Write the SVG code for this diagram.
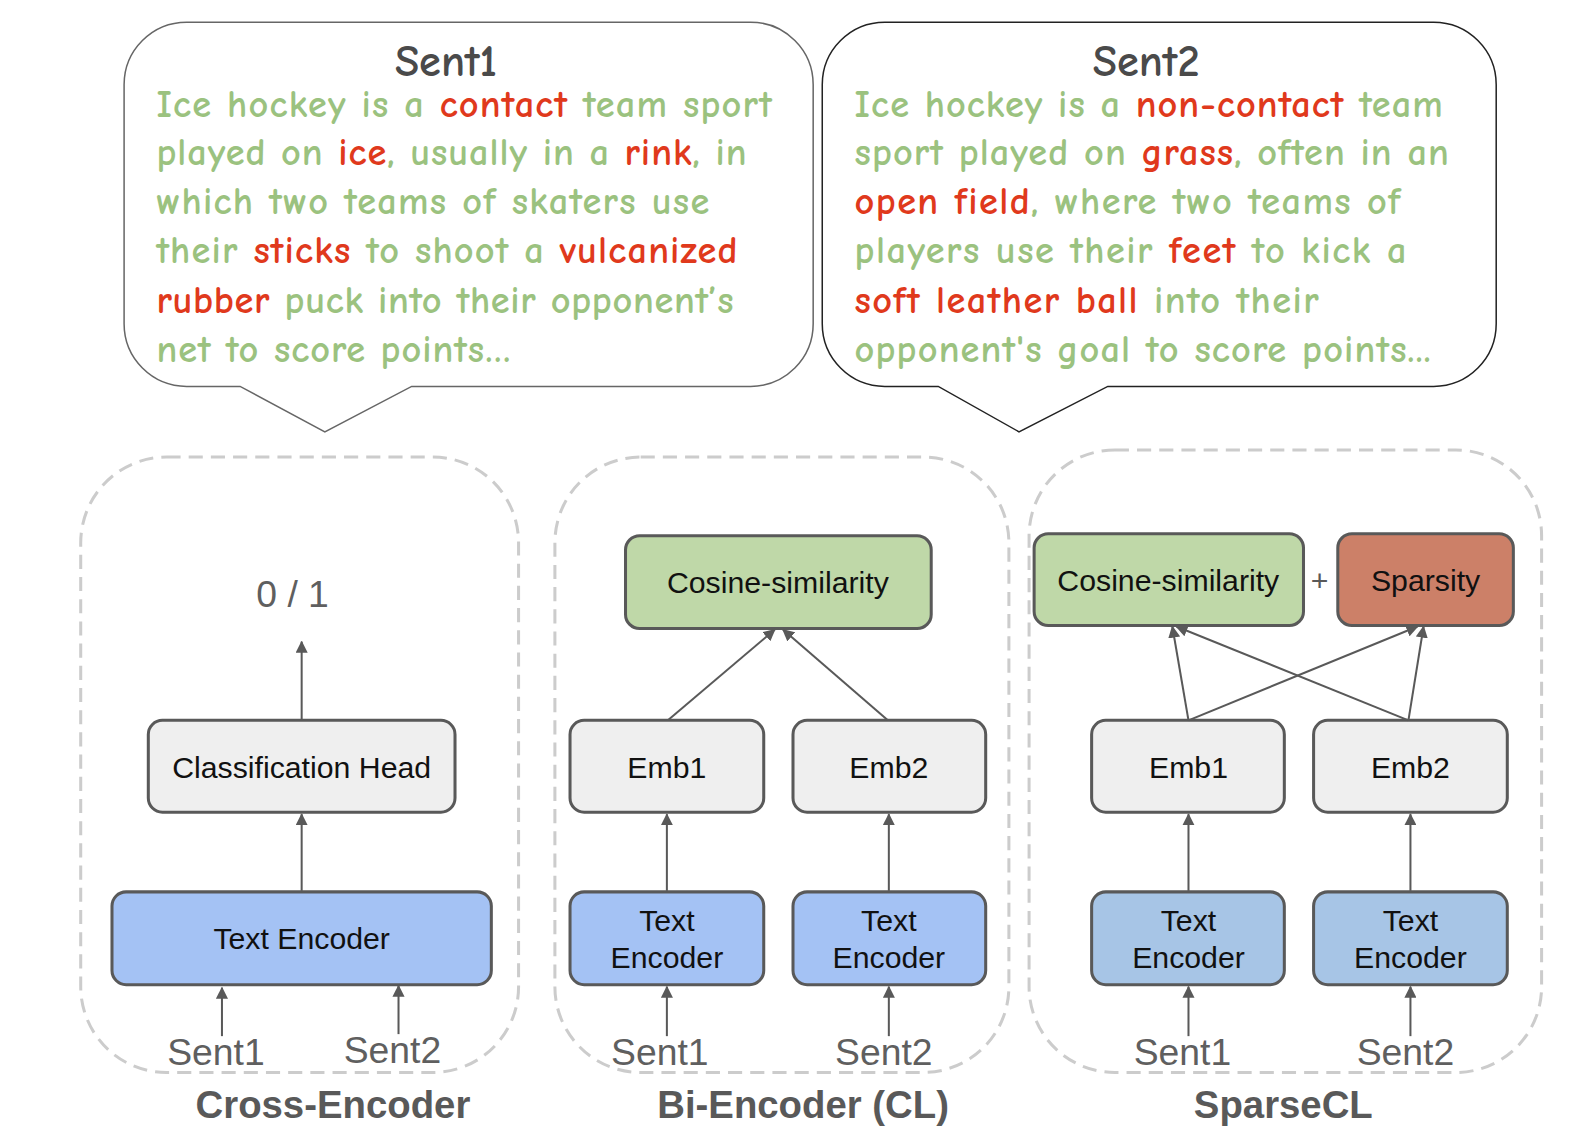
<svg xmlns="http://www.w3.org/2000/svg" width="1582" height="1134" viewBox="0 0 1582 1134">
<style>
.bub{font-family:"Comic Sans MS","Comic Neue","Noto Sans",sans-serif;font-size:38px;font-weight:bold;fill:#9bc27f}
.r{fill:#e0391c;font-weight:bold}
.ttl{font-family:"Comic Sans MS","Comic Neue","Noto Sans",sans-serif;font-size:44px;font-weight:bold;fill:#4a4a4a}
.panel{fill:none;stroke:#cccccc;stroke-width:3;stroke-dasharray:14 8}
.box{stroke:#595959;stroke-width:3}
.gray{fill:#efefef}.blue{fill:#a4c2f4}.blue2{fill:#a7c5e6}.green{fill:#bfd8a8}.red{fill:#cc8068}
.bt{font-family:"Liberation Sans",Arial,sans-serif;font-size:30px;fill:#111;text-anchor:middle}
.lbl{font-family:"Liberation Sans",Arial,sans-serif;font-size:37px;fill:#5f5f5f;text-anchor:middle}
.plbl{font-family:"Liberation Sans",Arial,sans-serif;font-size:38px;font-weight:bold;fill:#595959;text-anchor:middle}
.conn line{stroke:#595959;stroke-width:2;marker-end:url(#ah)}
</style>
<defs>
<marker id="ah" viewBox="0 0 12 12" refX="11" refY="6" markerWidth="12" markerHeight="12" markerUnits="userSpaceOnUse" orient="auto">
<path d="M0,0 L12,6 L0,12 z" fill="#595959"/>
</marker>
</defs>
<rect width="1582" height="1134" fill="#ffffff"/>
<g transform="scale(1.0089)">
<g id="bubble1">
<path d="M185 22 H744 A62 62 0 0 1 806 84 V321 A62 62 0 0 1 744 383 H408 L322 428 L238 383 H185 A62 62 0 0 1 123 321 V84 A62 62 0 0 1 185 22 Z" fill="#fff" stroke="#666" stroke-width="1.5"/>
<text class="ttl" x="442" y="75" text-anchor="middle">Sent1</text>
<text class="bub" x="155" y="116" textLength="610" lengthAdjust="spacing">Ice hockey is a <tspan class="r">contact</tspan> team sport</text>
<text class="bub" x="155" y="164" textLength="585" lengthAdjust="spacing">played on <tspan class="r">ice</tspan>, usually in a <tspan class="r">rink</tspan>, in</text>
<text class="bub" x="155" y="212" textLength="548" lengthAdjust="spacing">which two teams of skaters use</text>
<text class="bub" x="155" y="261" textLength="576" lengthAdjust="spacing">their <tspan class="r">sticks</tspan> to shoot a <tspan class="r">vulcanized</tspan></text>
<text class="bub" x="155" y="310" textLength="572" lengthAdjust="spacing"><tspan class="r">rubber</tspan> puck into their opponent’s</text>
<text class="bub" x="155" y="359" textLength="351" lengthAdjust="spacing">net to score points…</text>
</g>
<g id="bubble2">
<path d="M877 22 H1421 A62 62 0 0 1 1483 84 V321 A62 62 0 0 1 1421 383 H1098 L1010 428 L930 383 H877 A62 62 0 0 1 815 321 V84 A62 62 0 0 1 877 22 Z" fill="#fff" stroke="#222" stroke-width="1.5"/>
<text class="ttl" x="1136" y="75" text-anchor="middle">Sent2</text>
<text class="bub" x="847" y="116" textLength="583" lengthAdjust="spacing">Ice hockey is a <tspan class="r">non-contact</tspan> team</text>
<text class="bub" x="847" y="164" textLength="589" lengthAdjust="spacing">sport played on <tspan class="r">grass</tspan>, often in an</text>
<text class="bub" x="847" y="212" textLength="541" lengthAdjust="spacing"><tspan class="r">open field</tspan>, where two teams of</text>
<text class="bub" x="847" y="261" textLength="547" lengthAdjust="spacing">players use their <tspan class="r">feet</tspan> to kick a</text>
<text class="bub" x="847" y="310" textLength="460" lengthAdjust="spacing"><tspan class="r">soft leather ball</tspan> into their</text>
<text class="bub" x="847" y="359" textLength="571" lengthAdjust="spacing">opponent's goal to score points...</text>
</g>

<g id="panel-cross">
<rect class="panel" x="80" y="453" width="434" height="610" rx="85"/>
<text class="plbl" x="330" y="1108">Cross-Encoder</text>
</g>
<g id="panel-bi">
<rect class="panel" x="550" y="453" width="450" height="610" rx="85"/>
<text class="plbl" x="796" y="1108">Bi-Encoder (CL)</text>
</g>
<g id="panel-sparse">
<rect class="panel" x="1020" y="446" width="508" height="617" rx="85"/>
<text class="plbl" x="1272" y="1108">SparseCL</text>
</g>

<g id="ce-out"><text class="lbl" x="290" y="602">0 / 1</text></g>
<g id="ce-head"><rect class="box gray" x="147" y="714" width="304" height="91" rx="14"/><text class="bt" x="299" y="771">Classification Head</text></g>
<g id="ce-enc"><rect class="box blue" x="111" y="884" width="376" height="92" rx="14"/><text class="bt" x="299" y="941">Text Encoder</text></g>
<g id="ce-s1"><text class="lbl" x="214" y="1056">Sent1</text></g>
<g id="ce-s2"><text class="lbl" x="389" y="1054">Sent2</text></g>

<g id="bi-cos"><rect class="box green" x="620" y="531" width="303" height="92" rx="14"/><text class="bt" x="771" y="588">Cosine-similarity</text></g>
<g id="bi-emb1"><rect class="box gray" x="565" y="714" width="192" height="91" rx="14"/><text class="bt" x="661" y="771">Emb1</text></g>
<g id="bi-emb2"><rect class="box gray" x="786" y="714" width="191" height="91" rx="14"/><text class="bt" x="881" y="771">Emb2</text></g>
<g id="bi-enc1"><rect class="box blue" x="565" y="884" width="192" height="92" rx="14"/><text class="bt" x="661" y="923">Text</text><text class="bt" x="661" y="959">Encoder</text></g>
<g id="bi-enc2"><rect class="box blue" x="786" y="884" width="191" height="92" rx="14"/><text class="bt" x="881" y="923">Text</text><text class="bt" x="881" y="959">Encoder</text></g>
<g id="bi-s1"><text class="lbl" x="654" y="1056">Sent1</text></g>
<g id="bi-s2"><text class="lbl" x="876" y="1056">Sent2</text></g>

<g id="sp-cos"><rect class="box green" x="1025" y="529" width="267" height="91" rx="14"/><text class="bt" x="1158" y="586">Cosine-similarity</text></g>
<g id="sp-plus"><text class="bt" x="1308" y="586" style="fill:#595959">+</text></g>
<g id="sp-spars"><rect class="box red" x="1326" y="529" width="174" height="91" rx="14"/><text class="bt" x="1413" y="586">Sparsity</text></g>
<g id="sp-emb1"><rect class="box gray" x="1082" y="714" width="191" height="91" rx="14"/><text class="bt" x="1178" y="771">Emb1</text></g>
<g id="sp-emb2"><rect class="box gray" x="1302" y="714" width="192" height="91" rx="14"/><text class="bt" x="1398" y="771">Emb2</text></g>
<g id="sp-enc1"><rect class="box blue2" x="1082" y="884" width="191" height="92" rx="14"/><text class="bt" x="1178" y="923">Text</text><text class="bt" x="1178" y="959">Encoder</text></g>
<g id="sp-enc2"><rect class="box blue2" x="1302" y="884" width="192" height="92" rx="14"/><text class="bt" x="1398" y="923">Text</text><text class="bt" x="1398" y="959">Encoder</text></g>
<g id="sp-s1"><text class="lbl" x="1172" y="1056">Sent1</text></g>
<g id="sp-s2"><text class="lbl" x="1393" y="1056">Sent2</text></g>

<g id="connectors" class="conn">
<line x1="299" y1="713" x2="299" y2="636"/>
<line x1="299" y1="883" x2="299" y2="807"/>
<line x1="220" y1="1027" x2="220" y2="979"/>
<line x1="395" y1="1025" x2="395" y2="977"/>

<line x1="662" y1="714" x2="768" y2="624"/>
<line x1="880" y1="714" x2="776" y2="624"/>
<line x1="661" y1="883" x2="661" y2="807"/>
<line x1="881" y1="883" x2="881" y2="807"/>
<line x1="661" y1="1027" x2="661" y2="978"/>
<line x1="881" y1="1027" x2="881" y2="978"/>

<line x1="1178" y1="714" x2="1162" y2="621"/>
<line x1="1178" y1="714" x2="1405" y2="621"/>
<line x1="1396" y1="714" x2="1166" y2="621"/>
<line x1="1396" y1="714" x2="1411" y2="621"/>
<line x1="1178" y1="883" x2="1178" y2="807"/>
<line x1="1398" y1="883" x2="1398" y2="807"/>
<line x1="1178" y1="1027" x2="1178" y2="978"/>
<line x1="1398" y1="1027" x2="1398" y2="978"/>
</g>
</g>
</svg>
